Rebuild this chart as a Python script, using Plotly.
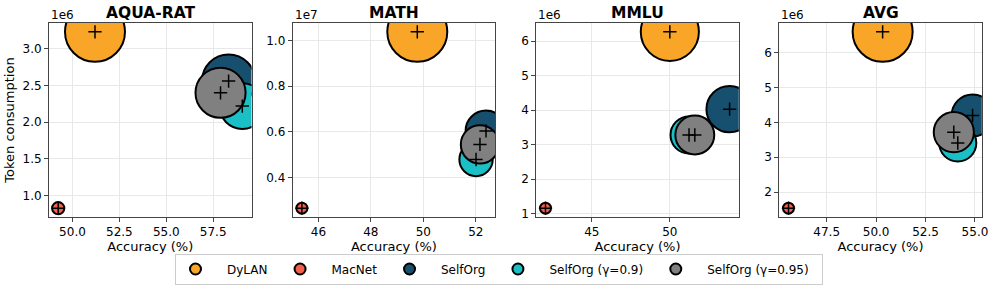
import plotly.graph_objects as go

W, H = 997, 291

# ---------------- data ----------------
methods = ["DyLAN", "MacNet", "SelfOrg", "SelfOrg (γ=0.9)", "SelfOrg (γ=0.95)"]
colors = ["#F9A628", "#F5604C", "#17506F", "#1BBFC6", "#808080"]

datasets = ["AQUA-RAT", "MATH", "MMLU", "AVG"]

aqua_acc = [51.2, 49.24, 58.32, 59.05, 57.89]
aqua_tok = [3.23e6, 0.83e6, 2.56e6, 2.22e6, 2.40e6]
aqua_bub = [1.00, 0.23, 0.89, 0.77, 0.84]

math_acc = [49.77, 45.37, 52.39, 52.01, 52.16]
math_tok = [10.38e6, 2.66e6, 6.04e6, 4.79e6, 5.45e6]
math_bub = [1.00, 0.21, 0.69, 0.57, 0.65]

mmlu_acc = [50.0, 42.03, 53.83, 51.23, 51.6]
mmlu_tok = [6.27e6, 1.16e6, 4.03e6, 3.28e6, 3.28e6]
mmlu_bub = [0.97, 0.21, 0.78, 0.63, 0.66]

avg_acc = [50.33, 45.57, 54.88, 54.13, 53.93]
avg_tok = [6.60e6, 1.54e6, 4.20e6, 3.41e6, 3.72e6]
avg_bub = [1.00, 0.21, 0.71, 0.63, 0.68]

acc = [aqua_acc, math_acc, mmlu_acc, avg_acc]
tok = [aqua_tok, math_tok, mmlu_tok, avg_tok]
bub = [aqua_bub, math_bub, mmlu_bub, avg_bub]
y_exp = [6, 7, 6, 6]
x_dtick = [2.5, 2, 5, 2.5]
x_fmt = [".1f", ".0f", ".0f", ".1f"]
y_dtick = [0.5, 0.2, 1, 1]
y_fmt = [".1f", ".1f", ".0f", ".0f"]

# ---------------- layout geometry ----------------
FONT = "DejaVu Sans"
px_left = [49, 292.7, 536.3, 779.3]
px_w = 202.5
px_top, px_bot = 23, 217
MAXD = 62

fig = go.Figure()
layout = {}
annotations = []

for i in range(4):
    ax = "" if i == 0 else str(i + 1)
    scale = 10 ** y_exp[i]
    xs = acc[i]
    ys = [v / scale for v in tok[i]]
    # circles
    for j in range(5):
        fig.add_trace(go.Scatter(
            x=[xs[j]], y=[ys[j]], mode="markers", showlegend=False,
            xaxis="x" + ax, yaxis="y" + ax, hoverinfo="skip",
            marker=dict(size=bub[i][j] * MAXD - 2, color=colors[j],
                        line=dict(color="black", width=2), opacity=1),
        ))
    # crosses on top
    fig.add_trace(go.Scatter(
        x=xs, y=ys, mode="markers", showlegend=False,
        xaxis="x" + ax, yaxis="y" + ax, hoverinfo="skip",
        marker=dict(symbol="cross-thin", size=9.5,
                    line=dict(color="black", width=1.5)),
    ))
    # matplotlib-like 5% margins
    xmin, xmax = min(xs), max(xs)
    ymin, ymax = min(ys), max(ys)
    dx, dy = (xmax - xmin) * 0.05, (ymax - ymin) * 0.05
    x0 = px_left[i] / W
    x1 = (px_left[i] + px_w) / W
    common = dict(showline=True, mirror=True, linecolor="#444", linewidth=1,
                  ticks="outside", ticklen=4, tickcolor="#444",
                  showgrid=True, gridcolor="#e8e8e8", gridwidth=1,
                  zeroline=False, automargin=False,
                  tickfont=dict(family=FONT, size=12, color="black"))
    layout["xaxis" + ax] = dict(
        domain=[x0, x1], range=[xmin - dx, xmax + dx], anchor="y" + ax,
        dtick=x_dtick[i], tick0=0, tickformat=x_fmt[i],
        title=dict(text="Accuracy (%)", font=dict(family=FONT, size=13, color="black"),
                   standoff=2),
        **common)
    layout["yaxis" + ax] = dict(
        domain=[1 - px_bot / H, 1 - px_top / H], range=[ymin - dy, ymax + dy],
        anchor="x" + ax, dtick=y_dtick[i], tick0=0, tickformat=y_fmt[i],
        **common)
    if i == 0:
        layout["yaxis"]["title"] = dict(text="Token consumption",
                                        font=dict(family=FONT, size=13, color="black"),
                                        standoff=4)
    # titles
    annotations.append(dict(
        text="<b>" + datasets[i] + "</b>", x=(x0 + x1) / 2, y=1 - 13 / H,
        xref="paper", yref="paper", xanchor="center", yanchor="middle",
        showarrow=False, font=dict(family=FONT, size=15.5, color="black")))
    # offset text
    annotations.append(dict(
        text="1e%d" % y_exp[i], x=x0, y=1 - 15 / H,
        xref="paper", yref="paper", xanchor="left", yanchor="middle",
        showarrow=False, font=dict(family=FONT, size=12, color="black")))

# legend entries
NB = "\u00a0"
for j in range(5):
    fig.add_trace(go.Scatter(
        x=[None], y=[None], mode="markers", name=NB * 3 + methods[j] + NB * 2,
        marker=dict(size=11, color=colors[j], line=dict(color="black", width=2)),
    ))

fig.update_layout(
    width=W, height=H, margin=dict(l=0, r=0, t=0, b=0),
    paper_bgcolor="white", plot_bgcolor="white",
    font=dict(family=FONT, size=12, color="black"),
    annotations=annotations,
    showlegend=True,
    legend=dict(orientation="h", x=0.5, xanchor="center", y=1 - 269 / H,
                yanchor="middle", bordercolor="#cccccc", borderwidth=1,
                font=dict(family=FONT, size=12, color="black"),
                bgcolor="white"),
    **layout,
)

fig.write_html(
    "out.html",
    config={"displayModeBar": False},
    post_script="document.body.style.margin='0';document.body.style.overflow='hidden';",
)
